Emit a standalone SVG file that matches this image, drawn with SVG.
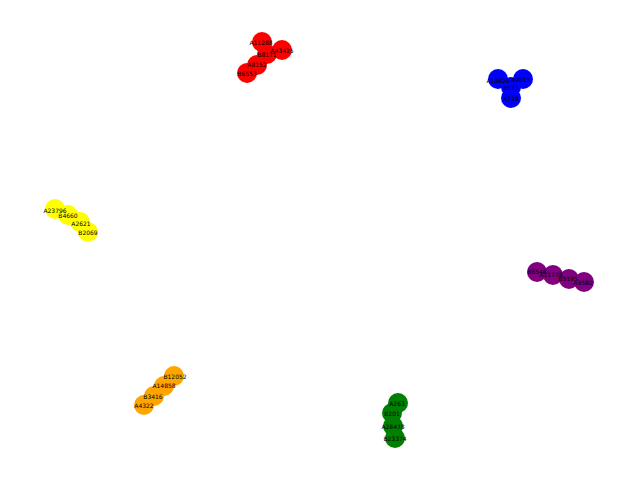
<svg xmlns="http://www.w3.org/2000/svg" width="640" height="480" viewBox="0 0 640 480">
<style>
text{font-family:"DejaVu Sans",sans-serif;font-size:6px;fill:#000;text-anchor:middle;dominant-baseline:central}
.r{fill:#ff0000}.b{fill:#0000ff}.y{fill:#ffff00}.p{fill:#800080}.o{fill:#ffa500}.g{fill:#008000}
</style>
<rect width="640" height="480" fill="#fff"/>
<g id="connectors"></g>
<g id="red">
<circle class="r" cx="262" cy="42" r="10"/><circle class="r" cx="282" cy="50" r="10"/><circle class="r" cx="267" cy="54" r="10"/><circle class="r" cx="257" cy="65" r="10"/><circle class="r" cx="247" cy="73" r="10"/>
<text x="261" y="42">A11288</text><text x="282" y="50">A43425</text><text x="267" y="54">B8171</text><text x="257" y="64">A8152</text><text x="247" y="73">B6553</text>
</g>
<g id="blue">
<circle class="b" cx="498" cy="79" r="10"/><circle class="b" cx="523" cy="79" r="10"/><circle class="b" cx="511" cy="87" r="10"/><circle class="b" cx="511" cy="98" r="10"/>
<text x="498" y="80">A18620</text><text x="521" y="79">A9815</text><text x="511" y="87">B573</text><text x="511" y="98">A738</text>
</g>
<g id="yellow">
<circle class="y" cx="55" cy="209" r="10"/><circle class="y" cx="68" cy="215" r="10"/><circle class="y" cx="80" cy="222" r="10"/><circle class="y" cx="88" cy="232" r="10"/>
<text x="55" y="210">A23796</text><text x="68" y="215">B4660</text><text x="81" y="223">A2621</text><text x="88" y="232">B2069</text>
</g>
<g id="purple">
<circle class="p" cx="537" cy="272" r="10"/><circle class="p" cx="553" cy="275" r="10"/><circle class="p" cx="569" cy="279" r="10"/><circle class="p" cx="584" cy="282" r="10"/>
<text x="537" y="271">B6548</text><text x="551" y="274">A11778</text><text x="568" y="278">B5195</text><text x="583" y="282">A9580</text>
</g>
<g id="orange">
<circle class="o" cx="174" cy="376" r="10"/><circle class="o" cx="164" cy="386" r="10"/><circle class="o" cx="154" cy="396" r="10"/><circle class="o" cx="144" cy="405" r="10"/>
<text x="175" y="376">B12052</text><text x="164" y="385">A14858</text><text x="153" y="396">B3416</text><text x="144" y="405">A4322</text>
</g>
<g id="green">
<circle class="g" cx="398" cy="403" r="10"/><circle class="g" cx="392" cy="413" r="10"/><circle class="g" cx="393" cy="426" r="10"/><circle class="g" cx="395" cy="438" r="10"/>
<text x="397" y="403">A263</text><text x="392" y="413">B201</text><text x="393" y="426">A28478</text><text x="395" y="438">B23374</text>
</g>
</svg>
